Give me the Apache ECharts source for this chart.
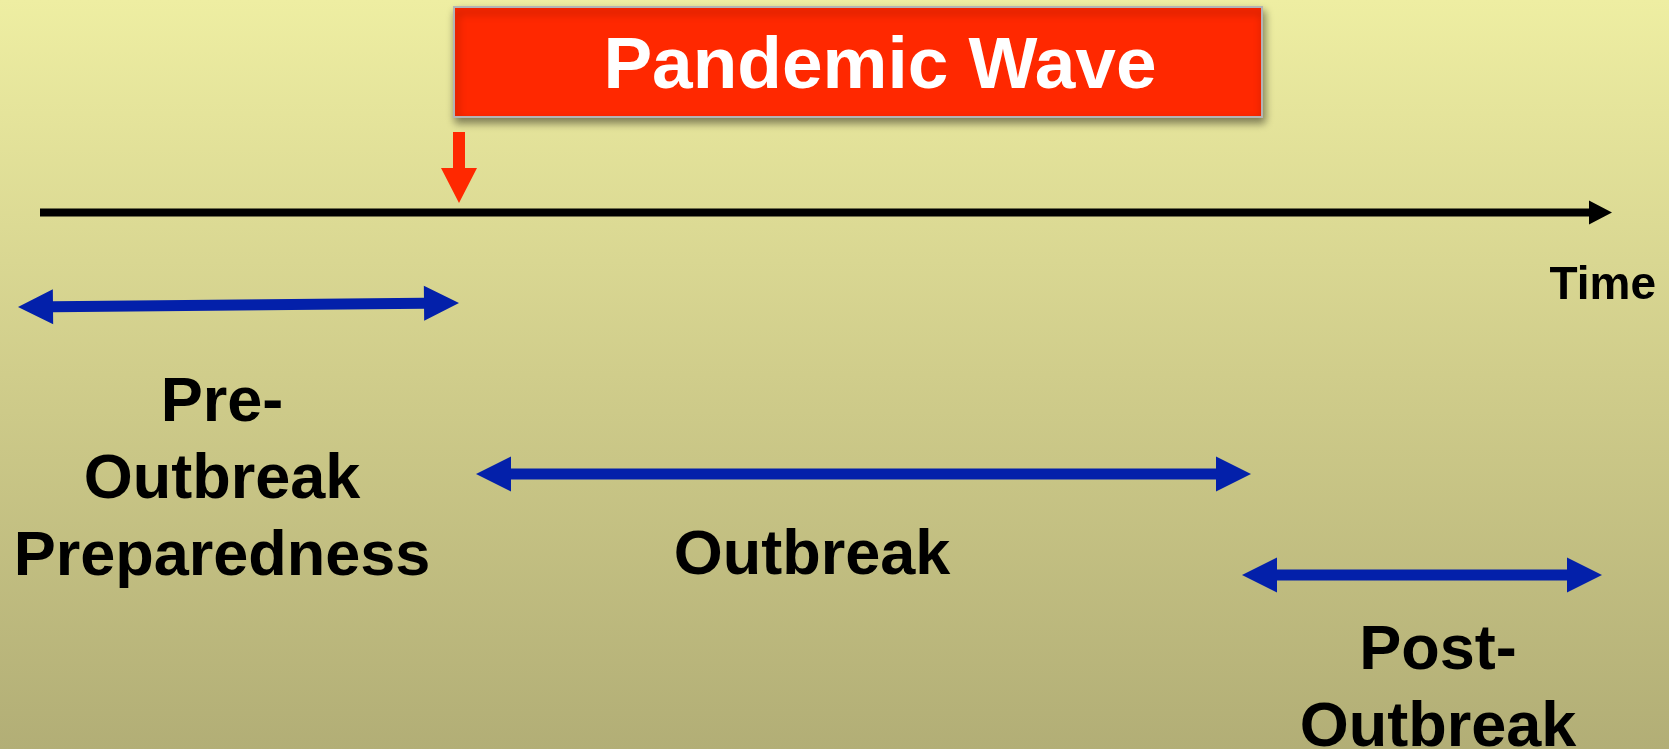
<!DOCTYPE html>
<html>
<head>
<meta charset="utf-8">
<script src="https://cdn.jsdelivr.net/npm/echarts@6/dist/echarts.min.js"></script>
<style>
html,body{margin:0;padding:0;}
#chart{width:1669px;height:749px;background:linear-gradient(to bottom,#eeeea2 0%,#d0cd8b 50%,#b2ae76 100%);}
</style>
</head>
<body>
<div id="chart"></div>
<script>
// ---- data (time on x, vertical level on y) ----
const phaseLabels = ['Pre-\nOutbreak\nPreparedness', 'Outbreak', 'Post-\nOutbreak'];
const phaseStart = [18, 476, 1242];
const phaseEnd = [459, 1251, 1602];
const phaseLevelStart = [307, 474, 575];
const phaseLevelEnd = [303, 474, 575];
const phaseLabelTime = [222, 812, 1438];
const phaseLabelLevel = [481, 557, 690];

const timelineStart = [40];
const timelineEnd = [1612];
const timelineLevel = [212.5];
const timeLabel = ['Time'];
const timeLabelTime = [1656];
const timeLabelLevel = [286];

const waveTitle = ['Pandemic Wave'];
const waveBoxStart = [454];
const waveBoxEnd = [1262];
const waveBoxTop = [7];
const waveBoxBottom = [117];
const waveTitleTime = [880];
const waveTitleLevel = [68];
const waveOnset = [459];
const waveMarkerTop = [132];
const waveMarkerBottom = [203];

// ---- helpers ----
function arrowPoints(p1, p2, shaftW, headL, headW, both) {
  const dx = p2[0] - p1[0], dy = p2[1] - p1[1];
  const len = Math.sqrt(dx * dx + dy * dy);
  const d = [dx / len, dy / len];
  const n = [-d[1], d[0]];
  const pt = (b, a, w) => [b[0] + d[0] * a + n[0] * w, b[1] + d[1] * a + n[1] * w];
  const pts = [];
  if (both) {
    pts.push(p1, pt(p1, headL, headW / 2), pt(p1, headL, shaftW / 2));
  } else {
    pts.push(pt(p1, 0, shaftW / 2));
  }
  pts.push(pt(p2, -headL, shaftW / 2), pt(p2, -headL, headW / 2), p2,
           pt(p2, -headL, -headW / 2), pt(p2, -headL, -shaftW / 2));
  if (both) {
    pts.push(pt(p1, headL, -shaftW / 2), pt(p1, headL, -headW / 2));
  } else {
    pts.push(pt(p1, 0, -shaftW / 2));
  }
  return pts;
}

function arrowSeries(data, color, shaftW, headL, headW, both) {
  return {
    type: 'custom',
    coordinateSystem: 'cartesian2d',
    silent: true,
    data: data,
    renderItem: function (params, api) {
      const p1 = api.coord([api.value(0), api.value(1)]);
      const p2 = api.coord([api.value(2), api.value(3)]);
      return {
        type: 'polygon',
        shape: { points: arrowPoints(p1, p2, shaftW, headL, headW, both) },
        style: { fill: color }
      };
    }
  };
}

function textSeries(data, opts) {
  return {
    type: 'custom',
    coordinateSystem: 'cartesian2d',
    silent: true,
    data: data,
    renderItem: function (params, api) {
      const p = api.coord([api.value(0), api.value(1)]);
      return {
        type: 'text',
        x: p[0], y: p[1],
        style: Object.assign({
          text: data[params.dataIndex][2],
          fill: '#000',
          fontFamily: '"Liberation Sans", Arial, sans-serif',
          fontWeight: 'bold',
          align: 'center',
          verticalAlign: 'middle'
        }, opts)
      };
    }
  };
}

const phaseData = phaseStart.map((s, i) => [s, phaseLevelStart[i], phaseEnd[i], phaseLevelEnd[i]]);
const timelineData = timelineStart.map((s, i) => [s, timelineLevel[i], timelineEnd[i], timelineLevel[i]]);
const markerData = waveOnset.map((t, i) => [t, waveMarkerTop[i], t, waveMarkerBottom[i]]);
const phaseLabelData = phaseLabels.map((l, i) => [phaseLabelTime[i], phaseLabelLevel[i], l]);
const timeLabelData = timeLabel.map((l, i) => [timeLabelTime[i], timeLabelLevel[i], l]);
const waveBoxData = waveTitle.map((l, i) => [waveBoxStart[i], waveBoxTop[i], waveBoxEnd[i], waveBoxBottom[i]]);
const waveTitleData = waveTitle.map((l, i) => [waveTitleTime[i], waveTitleLevel[i], l]);

const chart = echarts.init(document.getElementById('chart'), null, { renderer: 'canvas' });
chart.setOption({
  backgroundColor: 'transparent',
  animation: false,
  grid: { left: 0, right: 0, top: 0, bottom: 0 },
  xAxis: { type: 'value', min: 0, max: 1669, show: false },
  yAxis: { type: 'value', min: 0, max: 749, inverse: true, show: false },
  series: [
    // Pandemic Wave box
    {
      type: 'custom',
      coordinateSystem: 'cartesian2d',
      silent: true,
      data: waveBoxData,
      renderItem: function (params, api) {
        const a = api.coord([api.value(0), api.value(1)]);
        const b = api.coord([api.value(2), api.value(3)]);
        return {
          type: 'rect',
          shape: { x: a[0], y: a[1], width: b[0] - a[0], height: b[1] - a[1] },
          style: {
            fill: '#ff2800', stroke: '#b4b4b4', lineWidth: 2,
            shadowBlur: 8, shadowOffsetX: 2, shadowOffsetY: 5, shadowColor: 'rgba(0,0,0,0.45)'
          }
        };
      }
    },
    textSeries(waveTitleData, { fontSize: 73, fill: '#ffffff' }),
    arrowSeries(markerData, '#ff2800', 12, 35, 36, false),
    arrowSeries(timelineData, '#000000', 8, 23, 24, false),
    arrowSeries(phaseData, '#0320aa', 11, 35, 35, true),
    textSeries(phaseLabelData, { fontSize: 63, lineHeight: 77 }),
    textSeries(timeLabelData, { fontSize: 46, align: 'right' })
  ]
});
</script>
</body>
</html>
